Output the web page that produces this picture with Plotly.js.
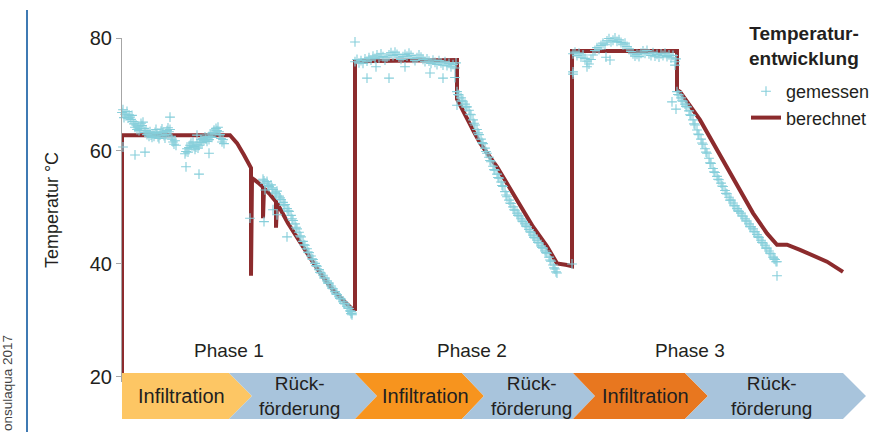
<!DOCTYPE html>
<html><head><meta charset="utf-8">
<script src="https://cdn.plot.ly/plotly-3.0.1.min.js"></script>
<style>html,body{margin:0;padding:0;background:#fff}#chart{width:870px;height:432px}</style>
</head><body><div id="chart"></div>
<script>
// ---------- DATA ----------
const yTickVals = [20, 40, 60, 80];
const phaseLabels = ['Phase 1', 'Phase 2', 'Phase 3'];
const infLabel = 'Infiltration';
const backLabel = 'Rück-<br>förderung';
const seriesNames = ['gemessen', 'berechnet'];
const legendTitle = 'Temperatur-<br>entwicklung';
const yTitle = 'Temperatur °C';
const sourceText = 'onsulaqua 2017';

// berechnet (calculated) – time (arbitrary units) and temperature
const calcT = [0,0,10.8,11.5,12.2,12.9,12.9,13.0,13.6,14.1,14.1,14.2,14.8,15.4,15.4,15.5,16.6,17.8,18.6,19.5,20.3,21.1,22.1,23.1,23.3,23.3,
  33.5,33.5,35.1,35.8,37.5,38.5,39.5,41.1,42.5,43.5,44.5,45.0,45.0,
  55.5,55.5,55.8,57.8,59.1,60.5,61.8,63.1,64.5,65.5,66.5,67.8,70.5,72.1];
const calcTemp = [17,62.8,62.8,61.4,59.3,57.0,37.9,55.2,54.4,53.6,48.1,53.4,52.3,51.0,46.4,50.8,47.2,43.8,41.6,39.2,37.2,35.4,33.6,31.9,32.0,75.9,
  76.1,69.2,63.7,61.4,57.2,54.3,51.3,46.6,43.1,40.1,39.8,39.6,77.7,
  77.7,70.8,70.5,65.5,61.4,57.2,53.1,49.0,45.4,43.4,43.4,42.5,40.4,38.6];

// gemessen (measured) – [time, temperature] pairs per section
const measInfil1 = [[0.0,66.8],[0.1,67.3],[0.2,65.9],[0.3,66.5],[0.4,66.2],[0.5,67.0],[0.6,65.8],[0.7,66.4],[0.8,66.0],[0.9,65.6],[1.0,66.3],[1.1,65.2],[1.2,64.8],[1.3,64.2],[1.4,64.6],[1.5,63.8],[1.6,64.4],[1.7,63.6],[1.8,64.0],[1.9,64.9],[2.0,64.5],[2.1,65.1],[2.2,64.0],[2.3,63.3],[2.4,63.6],[2.5,62.9],[2.6,63.2],[2.7,62.6],[2.8,63.4],[2.9,62.8],[3.0,62.4],[3.1,63.0],[3.2,62.6],[3.3,63.3],[3.4,63.8],[3.5,63.1],[3.6,62.5],[3.7,62.2],[3.8,62.8],[3.9,63.5],[4.0,63.9],[4.1,63.3],[4.2,62.7],[4.3,62.3],[4.4,62.9],[4.5,63.6],[4.6,64.1],[4.7,63.4],[4.8,63.8],[4.9,62.6],[5.0,62.1],[5.1,61.6],[5.2,61.2],[5.3,61.8],[5.4,61.0],
  [6.3,59.5],[6.4,59.9],[6.5,60.4],[6.6,59.8],[6.7,60.6],[6.8,61.0],[6.9,61.4],[7.0,60.9],[7.1,61.6],[7.2,60.8],[7.3,60.3],[7.4,60.7],[7.5,61.2],[7.6,60.5],[7.7,61.0],[7.8,61.6],[7.9,62.0],[8.0,61.5],[8.1,62.2],[8.2,61.8],[8.3,62.5],[8.4,62.1],[8.5,61.7],[8.6,62.4],[8.7,62.0],[8.8,62.6],[8.9,63.0],[9.0,62.4],[9.1,63.3],[9.2,63.7],[9.3,63.2],[9.4,64.0],[9.5,63.6],[9.6,64.2],[9.7,63.4],[9.8,62.9],[9.9,62.2],[10.0,61.6],[10.1,62.0],[10.2,61.3]];
const measBack1 = [[14.1,55.0],[14.3,54.3],[14.5,54.6],[14.7,53.7],[14.9,54.0],[15.1,53.2],[15.3,52.6],[15.5,52.9],[15.7,52.0],[15.9,51.4],[16.1,50.9],[16.3,50.5],[16.5,49.8],[16.7,49.3],[16.9,48.6],[17.1,47.7],[17.3,47.1],[17.5,46.2],[17.7,45.6],[17.9,44.8],[18.1,44.0],[18.3,43.3],[18.5,42.7],[18.7,42.0],[18.9,41.4],[19.1,40.8],[19.3,40.1],[19.5,39.6],[19.7,39.0],[19.9,38.4],[20.1,38.0],[20.3,37.5],[20.5,37.0],[20.7,36.6],[20.9,36.1],[21.1,35.6],[21.3,35.1],[21.5,34.6],[21.7,34.2],[21.9,33.8],[22.1,33.3],[22.3,32.9],[22.5,32.5],[22.7,32.1],[22.9,31.6],[23.0,31.3],
  [14.2,54.7],[14.6,53.9],[15.0,53.5],[15.4,52.4],[15.8,51.7],[16.2,50.4],[16.6,49.4],[17.0,48.0],[17.4,46.5],[17.8,45.0],[18.2,43.4],[18.6,42.1],[19.0,40.9],[19.4,39.7],[19.8,38.5],[20.2,37.5],[20.6,36.6],[21.0,35.7],[21.4,34.7],[21.8,33.9],[22.2,33.0],[22.6,32.2],[22.8,31.7],[23.0,31.0],[22.9,31.2]];
const measInfil2 = [[23.3,75.8],[23.5,76.2],[23.7,75.6],[23.9,76.0],[24.1,75.5],[24.3,76.3],[24.5,75.9],[24.7,76.5],[24.9,76.1],[25.1,76.8],[25.3,76.4],[25.5,77.0],[25.7,76.5],[25.9,77.2],[26.1,76.7],[26.3,76.1],[26.5,76.6],[26.7,77.0],[26.9,77.4],[27.1,76.9],[27.3,77.5],[27.5,77.1],[27.7,76.6],[27.9,76.2],[28.1,76.7],[28.3,77.1],[28.5,76.8],[28.7,77.3],[28.9,76.9],[29.1,76.4],[29.3,76.0],[29.5,76.5],[29.7,77.0],[29.9,76.6],[30.1,76.2],[30.3,75.8],[30.5,76.3],[30.7,75.9],[30.9,75.5],[31.1,76.1],[31.3,75.7],[31.5,75.3],[31.7,76.0],[31.9,75.6],[32.1,75.2],[32.3,75.8],[32.5,75.1],[32.7,75.5],[32.9,74.9],[33.1,75.3],[33.3,74.7],[33.4,75.6]];
const measBack2 = [[33.5,70.5],[33.7,69.9],[33.9,69.4],[34.1,68.8],[34.3,68.3],[34.5,67.8],[34.7,67.2],[34.9,66.4],[35.1,65.5],[35.3,64.6],[35.5,63.8],[35.7,62.9],[35.9,62.1],[36.1,61.3],[36.3,60.5],[36.5,59.6],[36.7,58.9],[36.9,58.1],[37.1,57.3],[37.3,56.6],[37.5,55.9],[37.7,55.2],[37.9,54.5],[38.1,53.7],[38.3,52.8],[38.5,51.9],[38.7,51.3],[38.9,50.7],[39.1,50.1],[39.3,49.5],[39.5,49.0],[39.7,48.5],[39.9,48.0],[40.1,47.5],[40.3,47.1],[40.5,46.6],[40.7,46.1],[40.9,45.6],[41.1,45.1],[41.3,44.6],[41.5,44.2],[41.7,43.7],[41.9,43.2],[42.1,42.8],[42.3,42.3],[42.5,41.9],[42.7,41.2],[42.9,40.5],[43.1,39.8],[43.3,39.1],[43.5,38.4],
  [33.6,70.0],[34.0,68.9],[34.4,67.8],[34.8,66.5],[35.2,64.9],[35.6,63.2],[36.0,61.5],[36.4,59.9],[36.8,58.3],[37.2,56.7],[37.6,55.3],[38.0,53.9],[38.4,52.2],[38.8,50.8],[39.2,49.6],[39.6,48.6],[40.0,47.6],[40.4,46.7],[40.8,45.7],[41.2,44.7],[41.6,43.8],[42.0,42.9],[42.4,42.0],[42.8,40.7],[43.2,39.3],[43.4,38.6]];
const measInfil3 = [[45.1,77.2],[45.3,77.5],[45.5,76.9],[45.7,77.3],[45.9,76.6],[46.1,77.0],[46.3,76.4],[46.5,75.9],[46.7,75.4],[46.9,76.2],[47.1,77.0],[47.3,77.8],[47.5,78.3],[47.7,78.0],[47.9,78.7],[48.1,79.1],[48.3,78.8],[48.5,79.5],[48.7,79.9],[48.9,79.3],[49.1,79.6],[49.3,80.0],[49.5,79.4],[49.7,79.7],[49.9,79.2],[50.1,78.8],[50.3,79.1],[50.5,78.5],[50.7,78.1],[50.9,77.6],[51.1,77.2],[51.3,76.8],[51.5,77.1],[51.7,76.7],[51.9,77.3],[52.1,77.7],[52.3,77.3],[52.5,77.8],[52.7,77.2],[52.9,76.9],[53.1,77.4],[53.3,76.8],[53.5,77.1],[53.7,76.6],[53.9,77.2],[54.1,76.9],[54.3,77.3],[54.5,76.7],[54.7,77.0],[54.9,76.5],[55.1,76.9],[55.3,75.8],[55.4,76.3]];
const measBack3 = [[55.5,70.5],[55.7,69.9],[55.9,69.4],[56.1,68.8],[56.3,68.3],[56.5,67.8],[56.7,67.1],[56.9,66.3],[57.1,65.5],[57.3,64.6],[57.5,63.7],[57.7,62.9],[57.9,62.1],[58.1,61.2],[58.3,60.4],[58.5,59.6],[58.7,58.7],[58.9,57.8],[59.1,56.9],[59.3,56.2],[59.5,55.5],[59.7,54.9],[59.9,54.3],[60.1,53.7],[60.3,53.0],[60.5,52.4],[60.7,51.8],[60.9,51.3],[61.1,50.8],[61.3,50.3],[61.5,49.8],[61.7,49.3],[61.9,49.0],[62.1,48.5],[62.3,48.0],[62.5,47.6],[62.7,47.1],[62.9,46.6],[63.1,46.2],[63.3,45.7],[63.5,45.2],[63.7,44.7],[63.9,44.2],[64.1,43.7],[64.3,43.3],[64.5,42.8],[64.7,42.3],[64.9,41.8],[65.1,41.2],[65.3,40.8],[65.5,40.4],
  [55.6,70.0],[56.0,68.9],[56.4,67.9],[56.8,66.4],[57.2,64.8],[57.6,63.0],[58.0,61.4],[58.4,59.8],[58.8,57.9],[59.2,56.3],[59.6,55.0],[60.0,53.8],[60.4,52.5],[60.8,51.3],[61.2,50.3],[61.6,49.4],[62.0,48.5],[62.4,47.6],[62.8,46.6],[63.2,45.7],[63.6,44.8],[64.0,43.8],[64.4,42.8],[64.8,41.9],[65.2,40.9],[65.4,40.4]];
const measOutliers = [[0.1,60.7],[1.3,59.3],[2.3,59.8],[4.8,66.0],[6.4,57.2],[7.7,55.9],[8.7,59.6],[7.5,62.8],
  [12.8,48.1],[14.2,47.5],[15.1,49.6],[15.5,48.7],[16.5,44.8],[14.3,53.1],
  [23.3,79.3],[24.5,72.9],[25.4,74.9],[26.7,72.9],[28.3,74.9],[30.8,73.8],[32.1,72.9],[33.3,73.0],[33.5,68.1],
  [45.0,40.0],[45.1,74.0],[45.1,73.6],[46.5,74.9],[48.8,76.1],[48.4,76.6],[55.0,68.7],[55.4,67.4],[55.3,75.2],[65.5,37.9]];

// ---------- CHART ----------
const F = '"Liberation Sans", Arial, sans-serif';
const TXT = '#231F20';
const ML = 122, MR = 8, MT = 38, MB = 50, W = 870, H = 432;
const PW = W - ML - MR, PH = H - MT - MB;
const X = px => (px - ML) / PW;
const Y = py => (H - MB - py) / PH;

const meas = [].concat(measInfil1, measBack1, measInfil2, measBack2, measInfil3, measBack3, measOutliers);
const CY = '#85CEDA';

const traces = [
  {type:'scatter', mode:'lines', name:seriesNames[1], x:calcT, y:calcTemp,
   line:{color:'#8C2B2D', width:4}, legendrank:2, legendgroup:'b'},
  {type:'scatter', mode:'markers', name:seriesNames[0], x:meas.map(p=>p[0]), y:meas.map(p=>p[1]),
   marker:{symbol:'cross-thin-open', size:7, color:CY, line:{width:1.1, color:CY}},
   cliponaxis:false, legendrank:1, legendgroup:'a'}
];

function poly(pts){
  return 'M' + pts.map(p => X(p[0]).toFixed(5) + ',' + Y(p[1]).toFixed(5)).join(' L') + ' Z';
}
const aTop = 373, aBot = 419, aMid = 396;
const arrows = [
  {pts:[[122,aTop],[229,aTop],[252,aMid],[229,aBot],[122,aBot]], c:'#FDC664'},
  {pts:[[229,aTop],[355,aTop],[377,aMid],[355,aBot],[229,aBot],[252,aMid]], c:'#A8C4DC'},
  {pts:[[355,aTop],[462,aTop],[484,aMid],[462,aBot],[355,aBot],[377,aMid]], c:'#F7941E'},
  {pts:[[462,aTop],[573,aTop],[595,aMid],[573,aBot],[462,aBot],[484,aMid]], c:'#A8C4DC'},
  {pts:[[573,aTop],[685,aTop],[708,aMid],[685,aBot],[573,aBot],[595,aMid]], c:'#E8771F'},
  {pts:[[685,aTop],[843,aTop],[866,aMid],[843,aBot],[685,aBot],[708,aMid]], c:'#A8C4DC'}
];
const shapes = arrows.map(a => ({type:'path', xref:'paper', yref:'paper', path:poly(a.pts),
  fillcolor:a.c, line:{width:0}, layer:'above'}));
shapes.push({type:'line', xref:'paper', yref:'paper', x0:X(27), x1:X(27), y0:Y(432), y1:Y(10),
  line:{color:'#3F7AB3', width:2}});

function ann(text, px, py, size, extra){
  return Object.assign({text:text, xref:'paper', yref:'paper', x:X(px), y:Y(py), showarrow:false,
    xanchor:'center', yanchor:'middle', font:{family:F, size:size, color:TXT}}, extra||{});
}
const annotations = [
  ann(phaseLabels[0], 229, 350, 19),
  ann(phaseLabels[1], 472, 350, 19),
  ann(phaseLabels[2], 690, 350, 19),
  ann(infLabel, 181, 396, 20),
  ann(infLabel, 425, 396, 20),
  ann(infLabel, 645, 396, 20),
  ann(backLabel, 299, 396, 19),
  ann(backLabel, 531, 396, 19),
  ann(backLabel, 771, 396, 19),
  ann(legendTitle, 861, 46, 19, {xanchor:'right', align:'right', font:{family:F, size:19, color:TXT, weight:'bold'}}),
  ann(sourceText, 7, 333, 13.5, {textangle:-90, yanchor:'top', font:{family:F, size:13.5, color:'#444'}})
];

const layout = {
  width:W, height:H, margin:{l:ML, r:MR, t:MT, b:MB, pad:0, autoexpand:false},
  paper_bgcolor:'#fff', plot_bgcolor:'#fff',
  font:{family:F, size:18, color:TXT},
  showlegend:true,
  legend:{x:X(746), xanchor:'left', y:Y(73), yanchor:'top', bgcolor:'rgba(0,0,0,0)',
    font:{family:F, size:18, color:TXT}, tracegroupgap:0, itemwidth:30},
  xaxis:{range:[0, 74], visible:false, fixedrange:true},
  yaxis:{range:[19.1, 80], tickvals:yTickVals, ticktext:yTickVals.map(String),
    showline:true, linecolor:'#A6A6A6', linewidth:1, ticks:'outside', ticklen:5, tickcolor:'#A6A6A6',
    showgrid:false, zeroline:false, tickfont:{family:F, size:20, color:TXT},
    title:{text:yTitle, standoff:26, font:{family:F, size:18, color:TXT}}},
  shapes:shapes, annotations:annotations
};
Plotly.newPlot('chart', traces, layout, {staticPlot:true, displayModeBar:false});
</script></body></html>
